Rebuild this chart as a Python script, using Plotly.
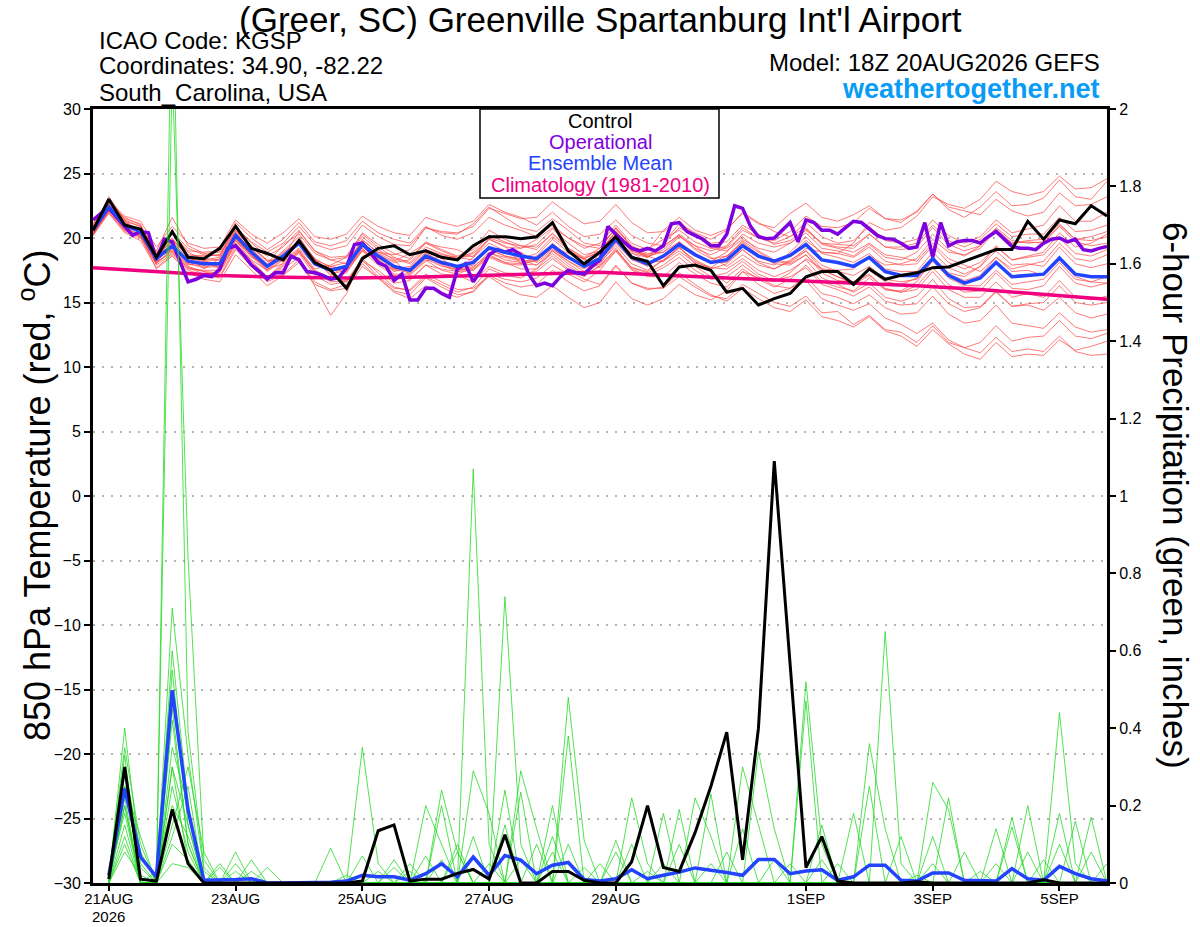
import plotly.graph_objects as go
import pandas as pd

# ---------------- data ----------------
run_start = "2026-08-20 18:00"
n_steps6 = 65          # 0..384 h every 6 h
n_steps3 = 129         # 0..384 h every 3 h (operational)

tick_dates = ["2026-08-21", "2026-08-23", "2026-08-25", "2026-08-27",
              "2026-08-29", "2026-09-01", "2026-09-03", "2026-09-05"]
tick_labels = ["21AUG", "23AUG", "25AUG", "27AUG", "29AUG", "1SEP", "3SEP", "5SEP"]
year_label = "2026"

temp_ticks = [-30, -25, -20, -15, -10, -5, 0, 5, 10, 15, 20, 25, 30]
precip_ticks = [0, 0.2, 0.4, 0.6, 0.8, 1, 1.2, 1.4, 1.6, 1.8, 2]

control_temp = [20.6, 23.0, 21.0, 20.7, 18.5, 20.5, 18.5, 18.4, 19.2, 20.9,
                19.2, 18.8, 18.3, 19.8, 18.1, 17.5, 16.1, 18.4, 19.2, 19.4,
                18.7, 19.0, 18.5, 18.3, 19.4, 20.1, 20.1, 19.95, 20.1, 21.2,
                19.0, 18.0, 18.9, 20.1, 18.5, 18.2, 16.3, 17.75, 17.9, 17.5,
                15.8, 16.1, 14.8, 15.3, 15.7, 17.0, 17.4, 17.4, 16.4, 17.6,
                16.8, 17.1, 17.3, 17.7, 17.75, 18.2, 18.6, 19.1, 19.1, 21.3,
                19.9, 21.4, 21.1, 22.5, 21.7]

mean_temp = [20.6, 22.4, 21.0, 20.5, 18.4, 19.4, 18.2, 18.0, 18.0, 20.2,
             18.9, 17.8, 18.6, 19.6, 18.0, 17.5, 17.8, 19.5, 18.6, 17.8,
             17.5, 18.6, 18.1, 17.8, 18.1, 19.25, 18.9, 18.6, 18.4, 19.4,
             18.5, 17.8, 18.4, 19.9, 18.5, 18.0, 18.6, 19.5, 18.7, 18.1,
             18.3, 19.4, 18.6, 18.2, 18.65, 19.5, 18.3, 18.1, 17.8, 18.5,
             17.4, 17.1, 17.1, 18.4, 17.1, 16.5, 16.9, 18.1, 17.0, 17.1,
             17.2, 18.45, 17.2, 17.0, 17.0]

oper_temp = [21.4, 21.9, 22.3, 21.6, 20.9, 20.2, 20.5, 20.4, 18.3, 19.9,
             19.7, 18.1, 16.6, 16.8, 17.1, 17.0, 17.6, 19.2, 19.4, 18.7,
             17.9, 17.4, 16.8, 17.3, 17.3, 18.6, 18.3, 17.4, 17.3, 17.1,
             16.8, 16.9, 17.7, 19.5, 19.6, 18.9, 18.1, 17.8, 16.7, 17.2,
             15.2, 15.2, 16.1, 16.1, 15.7, 15.4, 17.6, 18.0, 16.6, 17.5,
             18.7, 19.1, 18.9, 19.1, 18.7, 17.2, 16.3, 16.5, 16.3, 17.0,
             17.5, 17.3, 17.2, 17.8, 18.3, 20.9, 20.3, 19.7, 19.2, 19.0,
             19.2, 19.0, 19.4, 21.1, 21.2, 20.5, 20.2, 19.9, 19.4, 19.4,
             20.3, 22.5, 22.3, 20.9, 20.1, 19.95, 20.0, 20.6, 21.2, 19.7,
             21.4, 21.2, 20.6, 20.6, 20.3, 20.8, 21.3, 21.2, 20.7, 20.2,
             19.95, 19.9, 19.6, 19.2, 19.3, 21.2, 18.5, 21.2, 19.4, 19.7,
             19.8, 19.8, 19.6, 20.1, 20.5, 19.9, 19.35, 19.2, 19.2, 19.1,
             19.6, 19.9, 20.0, 19.7, 19.9, 19.1, 19.0, 19.2, 19.35]

clim_temp = [17.7, 17.4, 17.1, 16.95, 16.9, 16.95, 17.05, 17.2, 17.35,
             17.1, 16.9, 16.7, 16.5, 16.3, 16.0, 15.6, 15.25]

ens_temp = [
    [21.0,23.0,21.3,20.9, 18.8,20.0,18.5,18.4, 18.3,20.3,19.2,18.0, 19.5,20.3,18.8,18.3, 18.0,19.9,18.8,18.2, 18.8,19.6,19.3,19.1, 18.5,19.9,19.3,19.2, 19.9,20.8,20.0,19.4, 19.2,20.8,19.3,19.0, 20.6,21.6,20.6,20.2, 20.7,21.9,21.1,20.8, 21.9,22.7,21.6,21.3, 21.8,22.5,21.5,21.2, 22.1,23.4,22.2,21.6, 22.4,23.6,22.5,22.6, 23.1,24.5,23.2,23.0, 24.4],
    [20.3,22.0,20.6,20.1, 17.9,18.8,17.7,17.4, 17.0,19.3,17.8,16.9, 18.1,19.0,17.5,16.9, 16.6,18.2,17.5,16.5, 16.7,17.9,17.2,17.1, 16.6,17.8,17.3,17.2, 17.4,18.4,17.5,16.8, 16.4,17.9,16.5,16.1, 16.1,17.0,16.2,15.5, 15.3,16.4,15.7,15.0, 14.7,15.5,14.2,14.3, 13.3,14.0,12.9,12.7, 11.9,13.2,11.9,11.5, 11.1,12.3,11.2,11.4, 11.2,12.4,11.2,10.9, 11.0],
    [20.5,22.6,21.4,20.3, 18.0,19.8,18.6,17.6, 18.4,20.6,19.3,18.3, 18.2,19.1,17.6,17.9, 18.5,20.1,19.1,18.3, 17.1,18.2,18.6,18.4, 18.8,19.9,19.4,18.0, 17.9,19.0,18.0,17.2, 18.9,20.5,19.2,18.7, 19.3,20.3,19.4,18.5, 17.8,18.7,17.9,17.6, 18.2,19.2,18.9,18.8, 18.5,19.3,18.2,17.9, 18.0,19.4,18.1,17.6, 18.1,19.3,18.3,18.5, 18.7,20.0,18.8,18.6, 19.1],
    [20.4,22.2,20.7,20.1, 17.6,18.6,17.3,16.8, 16.6,18.7,17.5,16.3, 17.1,18.1,16.4,15.9, 16.1,17.8,16.9,15.8, 15.3,16.3,15.8,15.4, 15.9,17.2,16.8,16.6, 16.9,17.9,17.2,16.6, 17.5,19.0,17.7,17.3, 17.9,18.8,17.8,17.0, 17.3,18.2,17.2,16.7, 17.0,17.7,16.4,16.0, 15.5,16.2,15.1,14.8, 14.9,16.2,14.9,14.3, 14.6,15.8,14.7,14.9, 15.0,16.3,15.0,14.8, 15.0],
    [20.8,22.7,21.6,21.0, 18.9,20.3,19.0,18.9, 19.0,21.2,20.0,19.1, 19.9,21.2,19.7,19.4, 19.8,21.3,20.4,19.9, 19.6,20.9,20.2,19.9, 20.4,21.6,21.0,20.6, 20.1,21.0,20.0,19.2, 19.6,21.0,19.6,19.1, 19.9,20.6,19.7,19.2, 19.0,19.9,19.2,18.9, 19.6,20.6,19.6,19.5, 19.4,20.3,19.3,19.1, 19.3,20.8,19.5,19.0, 19.4,20.7,19.6,19.8, 19.9,21.1,19.9,19.8, 20.1],
    [20.7,22.1,20.8,20.6, 18.6,19.0,17.9,18.2, 18.3,19.8,18.6,17.4, 18.3,19.9,18.4,17.2, 17.5,19.2,18.0,17.6, 17.8,19.1,18.4,17.6, 17.6,18.6,18.1,18.0, 18.6,19.9,18.9,18.4, 17.7,19.0,17.5,17.0, 17.0,18.1,17.2,16.5, 16.2,17.4,16.4,15.7, 16.1,17.0,15.7,15.4, 14.9,15.6,14.6,14.1, 14.2,15.5,14.1,13.4, 13.6,14.8,13.4,13.2, 13.0,14.2,13.1,12.7, 12.9],
    [20.2,22.3,20.9,20.6, 18.3,19.2,18.4,18.2, 17.6,19.9,18.6,17.7, 18.8,19.7,18.3,17.8, 17.6,19.0,18.3,17.4, 17.7,18.9,18.0,17.5, 18.5,19.6,19.0,18.9, 18.1,19.1,18.4,17.9, 18.5,20.3,19.0,18.6, 18.9,20.1,19.4,19.0, 19.4,20.8,20.0,19.6, 20.1,21.2,20.1,19.6, 19.8,20.9,19.8,19.6, 19.9,21.4,20.2,19.6, 20.1,21.4,20.4,20.7, 21.0,22.5,21.3,21.3, 22.0],
    [20.6,22.5,20.8,20.2, 18.2,19.6,18.0,17.7, 17.8,20.0,18.5,17.9, 19.0,20.1,18.3,17.1, 17.9,19.7,18.3,17.2, 17.2,18.3,17.5,17.2, 17.7,18.9,18.3,18.1, 18.2,19.3,18.8,18.4, 18.9,20.3,18.9,18.1, 18.2,19.0,18.1,17.7, 18.5,19.8,18.9,18.2, 18.0,18.7,17.3,16.7, 16.6,17.2,16.0,15.8, 16.3,17.7,16.4,15.8, 15.9,17.3,16.1,16.0, 16.3,17.8,16.5,16.2, 16.5],
    [20.9,22.8,21.1,20.4, 18.7,19.7,18.4,18.3, 18.5,20.4,19.4,18.2, 18.3,19.2,17.9,17.8, 18.1,19.8,18.9,18.4, 18.0,19.1,18.7,18.5, 18.3,19.1,18.6,18.4, 18.8,20.1,19.1,18.3, 18.1,19.4,18.0,17.5, 18.3,19.3,18.2,17.6, 18.0,19.1,18.2,17.9, 18.9,20.1,18.8,18.5, 18.1,18.8,17.6,17.4, 17.4,18.9,17.7,17.2, 17.8,19.0,17.9,18.0, 17.8,19.3,18.0,17.7, 18.0],
    [20.3,22.1,21.1,20.7, 18.5,19.1,18.0,17.8, 17.9,20.0,18.7,17.6, 18.0,18.9,17.4,16.9, 17.3,19.1,18.2,17.5, 17.6,18.8,18.2,17.6, 17.9,19.2,18.6,18.3, 17.9,18.8,17.8,17.1, 17.8,19.2,17.6,17.1, 17.7,18.5,17.5,16.8, 17.0,17.9,17.0,16.3, 16.1,16.7,15.3,14.8, 14.4,14.9,13.8,13.3, 12.6,13.4,12.1,11.5, 11.9,13.2,12.0,12.3, 12.4,13.6,12.4,12.2, 12.6],
    [20.8,22.4,20.9,20.7, 18.6,19.9,18.7,18.6, 18.7,20.5,18.9,17.8, 18.4,19.5,18.1,17.6, 17.9,19.6,18.7,18.1, 18.3,19.6,19.0,18.5, 18.6,20.0,19.6,19.4, 19.3,20.3,19.2,18.5, 19.2,20.8,19.4,18.8, 18.9,19.7,18.8,18.2, 18.9,20.3,19.6,19.3, 19.6,20.4,19.2,19.0, 18.6,19.5,18.5,18.3, 18.9,20.3,19.1,18.6, 19.4,20.8,19.8,19.6, 19.7,21.0,19.9,20.1, 20.5],
    [20.4,22.6,21.2,20.4, 18.1,18.9,17.6,17.5, 17.5,19.8,18.3,17.5, 18.7,19.8,18.2,17.6, 17.4,19.0,17.9,17.1, 16.8,17.9,17.6,17.4, 17.8,18.7,18.1,17.6, 17.6,18.6,17.6,17.0, 17.9,19.1,17.7,17.4, 18.3,19.2,18.3,17.7, 17.6,18.4,17.5,17.0, 17.5,18.3,16.9,16.4, 15.8,16.5,15.4,15.1, 15.5,16.8,15.3,14.6, 14.7,15.9,14.7,14.8, 14.4,15.4,14.2,13.8, 14.1],
    [20.7,23.2,21.4,20.9, 18.8,20.5,19.2,18.7, 18.6,20.9,19.6,18.6, 19.3,20.6,19.0,18.3, 18.5,20.3,19.3,18.5, 18.1,19.3,18.8,18.4, 18.9,20.2,19.7,19.2, 19.5,20.7,19.6,18.7, 19.0,20.5,19.0,18.5, 19.1,20.2,19.2,18.7, 19.3,20.6,20.0,19.8, 20.5,21.7,20.9,20.8, 21.2,22.3,21.5,21.4, 22.0,23.4,22.4,22.1, 21.8,23.0,22.1,21.7, 22.0,23.5,22.5,22.6, 23.2],
    [20.5,22.2,20.6,20.2, 18.3,19.5,18.1,17.9, 18.1,20.0,18.7,17.5, 18.4,19.9,18.4,17.7, 17.6,19.3,18.4,17.6, 17.3,18.4,17.8,17.6, 17.5,18.8,18.5,18.2, 18.3,19.6,18.6,17.8, 18.2,19.7,18.4,17.8, 18.7,19.7,18.6,18.1, 18.1,19.1,18.1,17.6, 18.3,19.0,17.9,17.4, 17.1,17.8,16.8,16.6, 16.8,18.2,16.9,16.3, 16.3,17.5,16.4,16.6, 16.8,18.1,16.8,16.6, 17.0],
    [20.6,22.3,21.2,20.6, 18.7,19.4,18.3,17.9, 18.1,20.3,19.1,17.9, 18.9,19.7,18.0,17.4, 17.7,19.4,18.5,17.7, 17.4,18.5,17.9,17.4, 17.5,18.5,18.0,17.9, 18.3,19.2,18.2,17.4, 18.0,19.6,18.3,17.9, 18.5,19.6,18.8,18.1, 18.6,19.7,18.7,18.0, 17.9,18.7,17.5,17.0, 16.4,17.1,16.1,15.8, 16.0,17.4,16.0,15.4, 15.4,16.6,15.4,15.7, 15.4,16.7,15.4,15.2, 15.5],
    [21.1,22.9,21.2,20.6, 19.0,21.6,19.4,18.8, 18.9,20.6,19.3,18.2, 18.5,20.5,19.0,18.5, 18.6,20.4,19.5,18.8, 18.4,19.7,19.1,18.6, 19.1,20.6,19.9,19.4, 19.1,20.4,19.2,18.4, 19.0,20.5,19.2,18.5, 19.5,20.8,20.1,19.6, 19.7,21.0,20.3,19.5, 19.8,20.7,19.6,19.3, 19.2,20.3,19.3,19.3, 19.6,21.0,19.8,19.3, 19.9,21.1,20.1,20.3, 20.3,21.6,20.5,20.6, 21.0],
    [20.5,22.7,21.5,21.1, 18.2,20.4,18.9,18.3, 17.7,19.6,18.2,17.0, 17.6,18.5,16.2,14.0, 15.7,18.6,18.9,18.7, 19.1,20.8,20.4,20.3, 21.1,22.4,21.6,20.8, 20.5,21.5,20.6,19.6, 19.4,20.7,19.3,18.6, 18.2,19.3,18.0,17.4, 16.5,17.6,16.8,16.2, 16.8,17.9,16.6,16.2, 15.9,16.9,16.0,15.9, 16.6,18.3,17.3,17.0, 17.8,19.4,18.3,18.6, 18.9,20.4,19.3,19.6, 20.3],
    [20.4,22.0,20.5,20.0, 18.0,19.2,17.8,17.4, 17.3,19.5,18.0,16.9, 17.8,19.0,17.3,16.6, 16.7,18.4,17.3,16.2, 15.9,17.0,16.4,15.8, 16.2,17.6,17.1,16.9, 17.6,19.0,18.2,17.6, 18.4,20.0,18.8,18.5, 19.6,21.1,20.4,19.9, 20.6,22.0,21.2,20.5, 20.1,20.8,19.5,19.2, 18.9,19.6,18.7,18.5, 18.2,19.6,18.4,17.9, 17.4,18.5,17.4,17.5, 17.1,18.3,17.0,16.6, 16.5],
    [20.6,22.9,21.7,21.3, 19.3,20.9,19.6,19.2, 19.3,21.4,20.3,19.6, 20.4,21.5,20.1,19.9, 20.3,21.7,20.9,20.4, 20.2,21.6,21.2,20.9, 21.3,22.6,22.0,21.6, 21.0,22.0,20.9,20.1, 20.3,21.4,20.2,19.6, 19.4,20.2,19.1,18.4, 18.6,19.6,18.5,18.1, 18.7,19.8,18.9,18.8, 19.6,21.2,20.6,20.8, 21.7,23.2,22.6,22.3, 23.0,24.4,23.6,23.3, 23.6,24.8,23.8,23.9, 24.6],
    [20.2,21.9,20.4,19.8, 17.7,18.7,17.5,17.1, 16.9,19.1,17.8,16.6, 17.2,18.3,16.6,16.0, 16.4,18.0,16.9,15.9, 15.6,16.9,16.2,15.6, 15.8,17.1,16.5,16.2, 16.4,17.5,16.6,15.9, 16.3,17.8,16.5,16.0, 16.2,17.3,16.4,15.6, 15.1,16.1,15.3,14.6, 14.3,15.2,13.9,13.6, 13.1,13.9,12.8,12.4, 11.6,12.9,11.8,11.0, 10.6,11.9,10.8,11.0, 10.9,12.1,11.3,11.6, 12.0],
    [20.9,22.6,21.0,20.5, 18.5,19.8,18.6,18.6, 18.7,20.8,19.7,18.9, 19.6,20.9,19.5,19.1, 19.4,21.0,20.1,19.5, 19.4,20.8,20.5,20.4, 20.9,22.3,21.9,21.5, 21.6,22.8,21.9,21.1, 21.3,22.6,21.2,20.4, 20.5,21.3,20.2,19.3, 19.2,20.1,19.0,18.3, 18.1,19.0,17.6,17.0, 16.6,17.5,16.6,16.4, 16.9,18.4,17.2,16.7, 17.1,18.5,17.6,17.9, 18.2,19.6,18.4,18.2, 18.7],
    [20.2,22.2,20.9,20.2, 18.1,19.0,17.7,17.2, 17.4,19.6,18.2,17.0, 17.9,18.8,17.1,16.4, 16.6,18.3,17.0,16.1, 16.0,17.2,16.6,16.0, 16.1,17.0,16.2,15.6, 15.4,16.3,15.4,14.6, 15.0,16.6,15.3,14.8, 15.3,16.4,15.6,15.2, 15.9,17.4,16.9,16.6, 17.3,18.4,17.6,17.5, 17.6,18.6,17.9,18.0, 18.4,19.9,18.9,18.7, 19.2,20.6,19.6,19.7, 19.6,20.9,19.7,19.4, 19.6],
]

# 6-hour precipitation (inches), valid 6 h .. 384 h
control_precip = [0.01, 0.30, 0.01, 0.005, 0.19, 0.05, 0, 0,
                  0, 0, 0, 0, 0, 0, 0, 0,
                  0.005, 0.135, 0.15, 0.005, 0.01, 0.01, 0.025, 0.035,
                  0.01, 0.125, 0, 0, 0.03, 0.03, 0.007, 0,
                  0, 0.055, 0.20, 0.04, 0.03, 0.13, 0.25, 0.39,
                  0.06, 0.40, 1.09, 0.56, 0.04, 0.12, 0.005, 0,
                  0, 0, 0, 0.003, 0, 0, 0, 0,
                  0, 0, 0, 0.008, 0, 0, 0, 0]

mean_precip = [0.02, 0.244, 0.067, 0.016, 0.498, 0.188, 0.007, 0.007,
               0.009, 0.011, 0, 0, 0, 0, 0.002, 0.005,
               0.02, 0.016, 0.016, 0.007, 0.024, 0.05, 0.016, 0.067,
               0.02, 0.071, 0.059, 0.024, 0.046, 0.053, 0.009, 0.005,
               0.011, 0.034, 0.011, 0.02, 0.028, 0.039, 0.034, 0.027,
               0.02, 0.061, 0.061, 0.024, 0.031, 0.034, 0.007, 0.016,
               0.046, 0.046, 0.007, 0.005, 0.026, 0.026, 0.007, 0.005,
               0.005, 0.037, 0.011, 0.007, 0.043, 0.024, 0.011, 0.005]

ens_precip = [
    [.01,.40,.05,0,2.40,.39,.04,0, 0,0,0,0,0,0,0,0, 0,0,0,0,0,0,0,1.07, .10,0,0,0,0,0,0,0, 0,0,0,0,0,0,0,0, .14,0,0,0,0,0,0,0, 0,0,0,0,.12,0,0,0, 0,0,0,0,0,0,0,0],
    [.02,.35,.10,0,2.10,.84,.06,0, 0,0,0,0,0,0,0,0, .35,.05,0,0,0,0,0,0, 0,0,0,0,0,.48,.11,0, 0,0,0,0,0,0,0,0, 0,0,0,0,0,0,0,0, .25,0,0,0,0,0,0,0, 0,.17,0,0,0,0,0,0],
    [0,.33,0,0,.71,.33,.03,0, 0,0,0,0,0,0,0,0, 0,0,0,0,0,0,0,0, 0,.74,.10,0,0,0,0,0, 0,0,0,0,0,0,0,0, 0,0,0,0,.52,.10,0,0, 0,0,0,0,0,0,0,0, 0,0,0,0,0,.16,0,0],
    [0,.30,.08,0,.55,.15,0,0, .08,0,0,0,0,0,0,0, 0,0,0,0,0,.24,.08,0, 0,0,0,0,0,0,0,0, 0,0,0,0,0,0,0,0, .30,.15,0,0,0,0,0,0, 0,.65,.05,0,0,0,0,0, 0,0,0,0,0,0,0,0],
    [0,.28,0,0,.42,.10,0,0, 0,0,0,0,0,0,0,0, 0,0,0,0,.20,.10,0,0, 0,0,0,0,0,.38,0,0, 0,.22,.05,0,0,0,0,0, 0,0,0,0,.47,0,0,0, 0,0,0,0,0,0,0,0, 0,0,0,0,.44,.05,0,0],
    [0,.25,.12,0,.35,.20,0,.05, 0,0,0,0,0,0,0,0, 0,0,0,0,0,0,0,0, 0,0,.29,.14,0,0,0,0, 0,0,0,0,0,0,0,0, 0,.34,.14,0,0,0,0,0, 0,0,0,0,0,.22,0,0, 0,0,.20,0,0,0,0,0],
    [0,.22,0,0,.30,.05,0,0, 0,.06,0,0,0,0,0,0, 0,0,0,0,0,0,0,.29, .18,0,0,0,0,0,0,0, 0,0,0,0,0,.22,.12,0, 0,0,0,0,0,0,0,0, .36,.14,0,0,0,0,0,0, 0,0,0,0,0,0,.17,0],
    [.02,.18,0,0,.25,.08,0,0, 0,0,.04,0,0,0,.09,0, 0,0,0,0,0,.20,0,0, 0,.24,0,0,0,0,0,0, 0,0,0,0,.19,0,0,0, 0,0,0,0,0,0,0,0, 0,0,0,0,.26,.19,0,0, 0,0,0,0,0,0,0,0],
    [0,.15,0,.03,.20,.12,0,0, .05,0,0,0,0,0,0,0, 0,0,0,0,0,0,0,0, 0,0,.235,0,.20,0,0,0, 0,0,0,0,0,0,.23,0, 0,0,0,0,0,0,0,.18, 0,0,0,0,0,0,0,0, .14,0,0,0,0,0,0,.05],
    [0,.12,0,0,.15,.30,.08,0, 0,0,0,0,0,0,0,0, 0,0,0,0,0,0,.10,0, 0,0,0,0,.12,0,0,0, .11,0,0,.18,0,0,0,0, 0,0,0,0,0,.15,0,0, 0,0,0,0,0,0,0,0, 0,.145,0,0,0,0,0,0],
    [0,.10,0,0,.12,.25,0,0, 0,0,0,0,0,0,0,.02, 0,0,0,0,.07,0,0,0, 0,.15,0,0,0,0,0,0, .08,0,0,0,.10,0,0,0, 0,0,0,0,0,0,0,0, 0,0,0,0,0,0,.08,0, 0,0,0,0,.18,0,0,0],
    [0,.08,.02,0,.10,.06,0,0, 0,0,0,0,0,0,0,0, .07,0,0,0,0,0,0,.12, 0,0,0,.10,0,0,0,0, 0,.10,0,0,0,0,0,.08, 0,0,0,0,0,0,0,0, 0,0,.12,0,0,0,0,0, 0,0,0,.06,0,0,0,0],
    [0,.20,0,0,.45,.10,0,0, .03,0,0,0,0,0,0,0, 0,0,.04,0,0,0,0,0, .05,0,0,0,0,.10,0,.05, 0,0,0,0,0,0,0,0, 0,0,0,.05,0,0,.05,0, 0,0,0,0,0,0,0,.03, 0,0,0,0,0,0,0,0],
    [0,.30,0,0,.05,.04,0,0, 0,0,0,0,0,0,0,0, 0,.03,0,.05,0,0,0,0, 0,0,0,0,0,0,.04,0, 0,0,0,0,0,0,0,0, 0,0,.06,0,0,0,0,0, 0,0,0,.02,0,0,0,0, 0,0,.08,0,0,0,0,0],
    [0,.25,.04,0,.60,.20,0,.04, 0,0,0,0,0,0,0,0, 0,0,.06,0,0,0,.08,0, 0,0,.06,0,0,0,0,0, 0,0,.03,0,0,0,.05,0, 0,0,0,0,0,0,0,0, 0,0,0,0,.05,0,0,0, 0,0,0,0,0,0,.08,0],
    [0,.20,0,0,.30,.15,0,0, 0,.03,0,0,0,0,0,0, 0,0,0,.03,0,.06,0,0, 0,0,0,0,.08,0,0,0, 0,0,0,.05,0,0,0,0, 0,0,0,0,0,.06,0,0, 0,0,0,0,0,0,0,0, .05,0,0,0,.10,0,0,0],
]

legend_items = ["Control", "Operational", "Ensemble Mean", "Climatology (1981-2010)"]
info_left = ["ICAO Code: KGSP", "Coordinates: 34.90, -82.22", "South_Carolina, USA"]
title_text = "(Greer, SC) Greenville Spartanburg Int'l Airport"
model_text = "Model: 18Z 20AUG2026 GEFS"
site_text = "weathertogether.net"

# ---------------- styling ----------------
W, H = 1200, 927
PL, PR, PT, PB = 93, 1107, 109, 883      # plot area in pixels
FONT = "Liberation Sans, Arial, Helvetica, sans-serif"
C_RED = "rgba(255,70,70,0.8)"
C_GREEN = "rgba(30,215,30,0.85)"
C_OPER = "#7f00df"
C_MEAN = "#2244ff"
C_CLIM = "#f00080"


def px(x):
    return (x - PL) / (PR - PL)


def py(y):
    return (PB - y) / (PB - PT)


t6 = pd.date_range(run_start, periods=n_steps6, freq="6h")
t3 = pd.date_range(run_start, periods=n_steps3, freq="3h")
tp = t6[1:]
tclim = pd.date_range(run_start, periods=len(clim_temp), freq="24h")

fig = go.Figure()

for m in ens_temp:
    fig.add_trace(go.Scatter(x=t6, y=m, mode="lines", line=dict(color=C_RED, width=0.9),
                             hoverinfo="skip"))
for m in ens_precip:
    fig.add_trace(go.Scatter(x=tp, y=m, mode="lines", yaxis="y2",
                             line=dict(color=C_GREEN, width=0.9), hoverinfo="skip"))

fig.add_trace(go.Scatter(x=tclim, y=clim_temp, mode="lines", line=dict(color=C_CLIM, width=3.5)))
fig.add_trace(go.Scatter(x=tp, y=mean_precip, mode="lines", yaxis="y2",
                         line=dict(color=C_MEAN, width=3.5)))
fig.add_trace(go.Scatter(x=tp, y=control_precip, mode="lines", yaxis="y2",
                         line=dict(color="black", width=3)))
fig.add_trace(go.Scatter(x=t3, y=oper_temp, mode="lines", line=dict(color=C_OPER, width=3.5)))
fig.add_trace(go.Scatter(x=t6, y=mean_temp, mode="lines", line=dict(color=C_MEAN, width=3.5)))
fig.add_trace(go.Scatter(x=t6, y=control_temp, mode="lines", line=dict(color="black", width=3)))

fig.update_layout(
    width=W, height=H,
    margin=dict(l=PL, r=W - PR, t=PT, b=H - PB, pad=0, autoexpand=False),
    paper_bgcolor="white", plot_bgcolor="white",
    showlegend=False,
    font=dict(family=FONT, color="black", size=15),
    xaxis=dict(
        type="date", range=[t6[0], t6[-1]], automargin=False,
        tickvals=tick_dates, ticktext=tick_labels,
        ticks="outside", ticklen=5, tickwidth=1.5, tickcolor="black",
        ticklabelstandoff=-5,
        showgrid=False, zeroline=False,
        showline=True, linecolor="black", linewidth=3, mirror=True,
        tickfont=dict(size=15),
    ),
    yaxis=dict(
        range=[-30, 30], tickvals=temp_ticks, automargin=False,
        ticks="outside", ticklen=6, tickwidth=1.5, tickcolor="black",
        showgrid=True, gridcolor="#b4b4b4", gridwidth=1.5, griddash="2px,7px",
        zeroline=False,
        showline=True, linecolor="black", linewidth=3, mirror=True,
        tickfont=dict(size=16),
    ),
    yaxis2=dict(
        range=[0, 2], tickvals=precip_ticks, overlaying="y", side="right",
        automargin=False,
        ticks="outside", ticklen=6, tickwidth=1.5, tickcolor="black",
        showgrid=False, zeroline=False,
        showline=True, linecolor="black", linewidth=3,
        tickfont=dict(size=16),
    ),
)

# year under the first date label
fig.add_annotation(text=year_label, x=tick_dates[0], xref="x", y=py(916), yref="paper",
                   showarrow=False, xanchor="center", yanchor="middle",
                   font=dict(size=15, family=FONT))

# legend box
fig.add_shape(type="rect", xref="paper", yref="paper",
              x0=px(480), x1=px(719), y0=py(198), y1=py(109),
              line=dict(color="black", width=1.5), fillcolor="white", layer="above")
legend_colors = ["black", C_OPER, C_MEAN, C_CLIM]
legend_y = [121, 142, 163, 185]
for txt, col, yy in zip(legend_items, legend_colors, legend_y):
    fig.add_annotation(text=txt, x=px(600), y=py(yy), xref="paper", yref="paper",
                       showarrow=False, xanchor="center", yanchor="middle",
                       font=dict(size=20, color=col, family=FONT))

# titles and info text
fig.add_annotation(text=title_text, x=px(600), y=py(19), xref="paper", yref="paper",
                   showarrow=False, xanchor="center", yanchor="middle",
                   font=dict(size=35, family=FONT))
for txt, yy in zip(info_left, [40, 66, 92]):
    fig.add_annotation(text=txt, x=px(97), y=py(yy), xref="paper", yref="paper",
                       showarrow=False, xanchor="left", yanchor="middle",
                       font=dict(size=24, family=FONT))
fig.add_annotation(text=model_text, x=px(1102), y=py(63), xref="paper", yref="paper",
                   showarrow=False, xanchor="right", yanchor="middle",
                   font=dict(size=24, family=FONT))
fig.add_annotation(text="<b>" + site_text + "</b>", x=px(1102), y=py(89), xref="paper",
                   yref="paper", showarrow=False, xanchor="right", yanchor="middle",
                   font=dict(size=27, family=FONT, color="#0a9cf5"))

# axis titles
fig.add_annotation(text="850 hPa Temperature (red, <sup>o</sup>C)", x=px(35), y=py(495),
                   xref="paper", yref="paper", showarrow=False, textangle=-90,
                   xanchor="center", yanchor="middle", font=dict(size=36, family=FONT))
fig.add_annotation(text="6-hour Precipitation (green, inches)", x=px(1175), y=py(495),
                   xref="paper", yref="paper", showarrow=False, textangle=90,
                   xanchor="center", yanchor="middle", font=dict(size=35, family=FONT))

# the page body normally has an 8 px margin; remove it so the figure sits at (0, 0)
fig.write_html("out.html", config={"displayModeBar": False},
               post_script="document.body.style.margin='0px';document.body.style.overflow='hidden';")
